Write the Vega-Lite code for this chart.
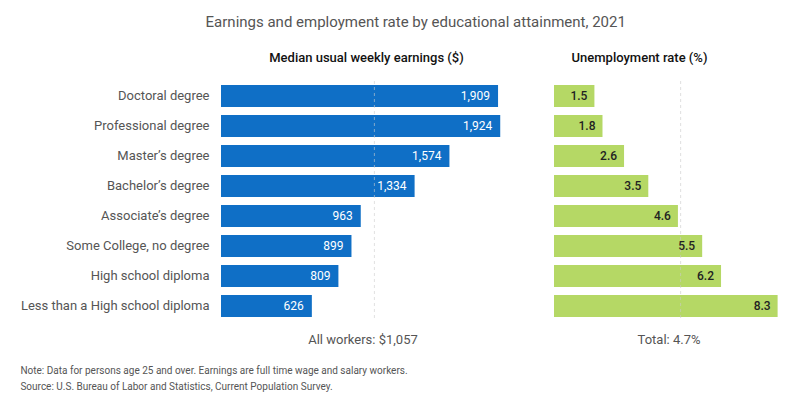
{
  "$schema": "https://vega.github.io/schema/vega-lite/v6.json",
  "background": "white",
  "padding": {"left": 20, "top": 14, "right": 10, "bottom": 5},
  "config": {"font": "Roboto", "view": {"stroke": null}, "concat": {"spacing": 50}},
  "title": {"text": "Earnings and employment rate by educational attainment, 2021", "fontSize": 15, "fontWeight": "normal", "color": "#555", "anchor": "middle", "offset": 22, "dx": 14},
  "datasets": {
    "edu": [
      {"level": "Doctoral degree", "earnings": 1909, "unemp": 1.5},
      {"level": "Professional degree", "earnings": 1924, "unemp": 1.8},
      {"level": "Master’s degree", "earnings": 1574, "unemp": 2.6},
      {"level": "Bachelor’s degree", "earnings": 1334, "unemp": 3.5},
      {"level": "Associate’s degree", "earnings": 963, "unemp": 4.6},
      {"level": "Some College, no degree", "earnings": 899, "unemp": 5.5},
      {"level": "High school diploma", "earnings": 809, "unemp": 6.2},
      {"level": "Less than a High school diploma", "earnings": 626, "unemp": 8.3}
    ],
    "refE": [{"ref": 1057}],
    "refU": [{"ref": 4.7}]
  },
  "vconcat": [
    {
      "title": {"text": ["Note: Data for persons age 25 and over. Earnings are full time wage and salary workers.", "Source: U.S. Bureau of Labor and Statistics, Current Population Survey."], "orient": "bottom", "anchor": "start", "fontSize": 10, "fontWeight": "normal", "color": "#555", "offset": 20, "lineHeight": 16},
      "hconcat": [
        {
          "width": 283,
          "height": 240,
          "title": {"text": "Median usual weekly earnings ($)", "fontSize": 13, "fontWeight": 500, "color": "#111", "offset": 16, "dx": 4},
          "layer": [
            {
              "data": {"name": "edu"},
              "mark": {"type": "bar", "color": "#0f6fc6"},
              "encoding": {
                "y": {"field": "level", "type": "nominal", "sort": null, "scale": {"paddingInner": 0.27, "paddingOuter": 0.135}, "axis": {"title": null, "ticks": false, "domain": false, "labelFontSize": 13, "labelColor": "#555", "labelPadding": 12, "labelLimit": 300}},
                "x": {"field": "earnings", "type": "quantitative", "scale": {"domain": [0, 1950], "nice": false}, "axis": {"title": "All workers:  $1,057", "grid": false, "labels": false, "ticks": false, "domain": false, "titleFontSize": 13, "titleFontWeight": "normal", "titleColor": "#555", "titlePadding": 12}}
              }
            },
            {
              "data": {"name": "edu"},
              "mark": {"type": "text", "align": "right", "dx": -8, "color": "white", "fontSize": 12, "fontWeight": "normal"},
              "encoding": {
                "y": {"field": "level", "type": "nominal", "sort": null},
                "x": {"field": "earnings", "type": "quantitative"},
                "text": {"field": "earnings", "type": "quantitative", "format": ","}
              }
            },
            {
              "data": {"name": "refE"},
              "mark": {"type": "rule", "strokeDash": [3, 3], "color": "#ccc", "opacity": 0.6},
              "encoding": {"x": {"field": "ref", "type": "quantitative"}}
            }
          ]
        },
        {
          "width": 229,
          "height": 240,
          "title": {"text": "Unemployment rate (%)", "fontSize": 13, "fontWeight": 500, "color": "#111", "offset": 16, "dx": -29},
          "layer": [
            {
              "data": {"name": "edu"},
              "mark": {"type": "bar", "color": "#b5d865"},
              "encoding": {
                "y": {"field": "level", "type": "nominal", "sort": null, "scale": {"paddingInner": 0.27, "paddingOuter": 0.135}, "axis": null},
                "x": {"field": "unemp", "type": "quantitative", "scale": {"domain": [0, 8.5], "nice": false}, "axis": {"title": "Total: 4.7%", "grid": false, "labels": false, "ticks": false, "domain": false, "titleFontSize": 13, "titleFontWeight": "normal", "titleColor": "#555", "titlePadding": 12}}
              }
            },
            {
              "data": {"name": "refU"},
              "mark": {"type": "rule", "strokeDash": [3, 3], "color": "#ccc", "opacity": 0.6},
              "encoding": {"x": {"field": "ref", "type": "quantitative"}}
            },
            {
              "data": {"name": "edu"},
              "mark": {"type": "text", "align": "right", "dx": -7, "color": "#222", "fontSize": 12, "fontWeight": 500},
              "encoding": {
                "y": {"field": "level", "type": "nominal", "sort": null},
                "x": {"field": "unemp", "type": "quantitative"},
                "text": {"field": "unemp", "type": "quantitative", "format": ".1f"}
              }
            }
          ]
        }
      ]
    }
  ]
}
